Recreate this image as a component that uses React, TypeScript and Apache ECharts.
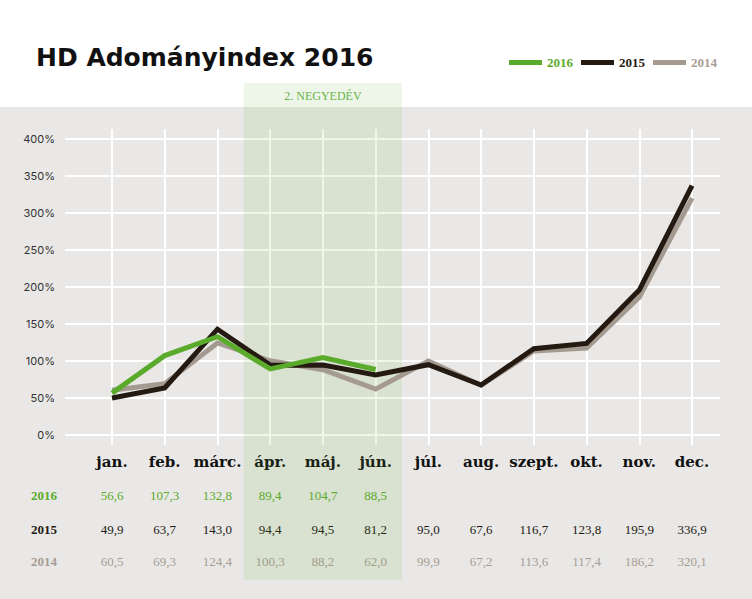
import React, { useEffect, useRef } from "react";
import * as echarts from "echarts";

const months = ["jan.", "feb.", "márc.", "ápr.", "máj.", "jún.", "júl.", "aug.", "szept.", "okt.", "nov.", "dec."];
const years = ["2016", "2015", "2014"];
const v2016 = [56.6, 107.3, 132.8, 89.4, 104.7, 88.5];
const v2015 = [49.9, 63.7, 143.0, 94.4, 94.5, 81.2, 95.0, 67.6, 116.7, 123.8, 195.9, 336.9];
const v2014 = [60.5, 69.3, 124.4, 100.3, 88.2, 62.0, 99.9, 67.2, 113.6, 117.4, 186.2, 320.1];
const highlightFrom = "ápr.";
const highlightTo = "jún.";
const highlightLabel = "2. NEGYEDÉV";
const titleText = "HD Adományindex 2016";

const GREEN = "#5aab2b";
const DARK = "#241a12";
const GREY = "#a59a90";
const GREY_TXT = "#a89d94";
const BG = "#e9e8e6";
const SERIF = "'DejaVu Serif', 'Liberation Serif', serif";
const NUMSERIF = "'Liberation Serif', serif";

const fmt = (v: number | undefined) => (v === undefined || v === null ? "" : v.toFixed(1).replace(".", ","));

export default function App() {
  const ref = useRef<HTMLDivElement>(null);
  useEffect(() => {
    if (!ref.current) return;
    const chart = echarts.init(ref.current, undefined, { renderer: "svg" });
    const rowAxis = (vals: number[], offset: number, color: string) => ({
      type: "category",
      gridIndex: 1,
      data: months,
      boundaryGap: false,
      position: "bottom",
      offset,
      axisLine: { show: false },
      axisTick: { show: false },
      splitLine: { show: false },
      axisLabel: {
        interval: 0,
        margin: 8,
        color,
        fontFamily: NUMSERIF,
        fontSize: 13,
        formatter: (_: string, i: number) => fmt(vals[i]),
      },
    });
    const option: any = {
      animation: false,
      backgroundColor: "#ffffff",
      title: {
        text: titleText,
        left: 31,
        top: 40,
        textStyle: { fontFamily: "'DejaVu Sans', sans-serif", fontWeight: 700, fontSize: 25, color: "#111111" },
      },
      legend: {
        right: 30,
        top: 51,
        icon: "rect",
        itemWidth: 33,
        itemHeight: 5,
        itemGap: 8,
        textStyle: { fontFamily: NUMSERIF, fontWeight: "bold", fontSize: 13 },
        data: [
          { name: "2016", textStyle: { color: GREEN } },
          { name: "2015", textStyle: { color: DARK } },
          { name: "2014", textStyle: { color: GREY_TXT } },
        ],
      },
      grid: [
        { left: 65, right: 32, top: 139, bottom: 164 },
        { left: 112, right: 60, top: 129, bottom: 154 },
      ],
      xAxis: [
        { type: "value", gridIndex: 0, show: false, min: 0, max: 1 },
        {
          type: "category",
          gridIndex: 1,
          data: months,
          boundaryGap: false,
          axisLine: { show: false },
          axisTick: { show: false },
          splitLine: { show: true, lineStyle: { color: "#ffffff", width: 2 } },
          axisLabel: {
            interval: 0,
            margin: 9,
            color: "#111111",
            fontFamily: SERIF,
            fontWeight: "bold",
            fontSize: 15,
          },
        },
        rowAxis(v2016, 36, GREEN),
        rowAxis(v2015, 70, DARK),
        rowAxis(v2014, 102, GREY_TXT),
      ],
      yAxis: [
        {
          type: "value",
          gridIndex: 0,
          min: 0,
          max: 400,
          interval: 50,
          axisLine: { show: false },
          axisTick: { show: false },
          splitLine: { show: true, lineStyle: { color: "#ffffff", width: 2 } },
          axisLabel: { formatter: "{value}%", margin: 10, color: "#333333", fontFamily: "Inter, sans-serif", fontSize: 11 },
        },
        { type: "value", gridIndex: 1, min: -13.51, max: 413.51, show: false, splitLine: { show: false } },
      ],
      series: [
        { name: "2014", data: v2014, color: GREY },
        { name: "2015", data: v2015, color: DARK },
        { name: "2016", data: v2016, color: GREEN },
      ].map((s) => ({
        type: "line",
        name: s.name,
        data: s.data,
        xAxisIndex: 1,
        yAxisIndex: 1,
        showSymbol: false,
        symbol: "none",
        color: s.color,
        lineStyle: { color: s.color, width: 5, cap: "butt", join: "miter" },
        z: 3,
      })),
      graphic: [
        { type: "rect", z: -10, shape: { x: 0, y: 107, width: 752, height: 492 }, style: { fill: BG } },
        ...years.map((y, i) => ({
          type: "text",
          z: 5,
          x: 31,
          y: [495, 529, 561][i],
          style: {
            text: y,
            fill: [GREEN, DARK, GREY_TXT][i],
            font: `bold 13px ${NUMSERIF}`,
            verticalAlign: "middle",
          },
        })),
      ],
    };
    chart.setOption(option);
    const a = chart.convertToPixel({ xAxisIndex: 1 }, months.indexOf(highlightFrom)) as number;
    const b = chart.convertToPixel({ xAxisIndex: 1 }, months.indexOf(highlightTo)) as number;
    const step = (chart.convertToPixel({ xAxisIndex: 1 }, 1) as number) - (chart.convertToPixel({ xAxisIndex: 1 }, 0) as number);
    const x0 = a - step / 2;
    const x1 = b + step / 2;
    chart.setOption({
      graphic: [
        ...option.graphic,
        {
          type: "rect",
          z: 1,
          silent: true,
          shape: { x: x0, y: 83, width: x1 - x0, height: 497 },
          style: { fill: "rgba(90,171,46,0.11)" },
        },
        {
          type: "text",
          z: 5,
          x: (x0 + x1) / 2,
          y: 96,
          style: {
            text: highlightLabel,
            fill: "#6ab34a",
            font: `12px ${NUMSERIF}`,
            align: "center",
            verticalAlign: "middle",
          },
        },
      ],
    });
    return () => chart.dispose();
  }, []);
  return <div ref={ref} style={{ position: "fixed", left: 0, top: 0, width: 752, height: 599 }} />;
}
